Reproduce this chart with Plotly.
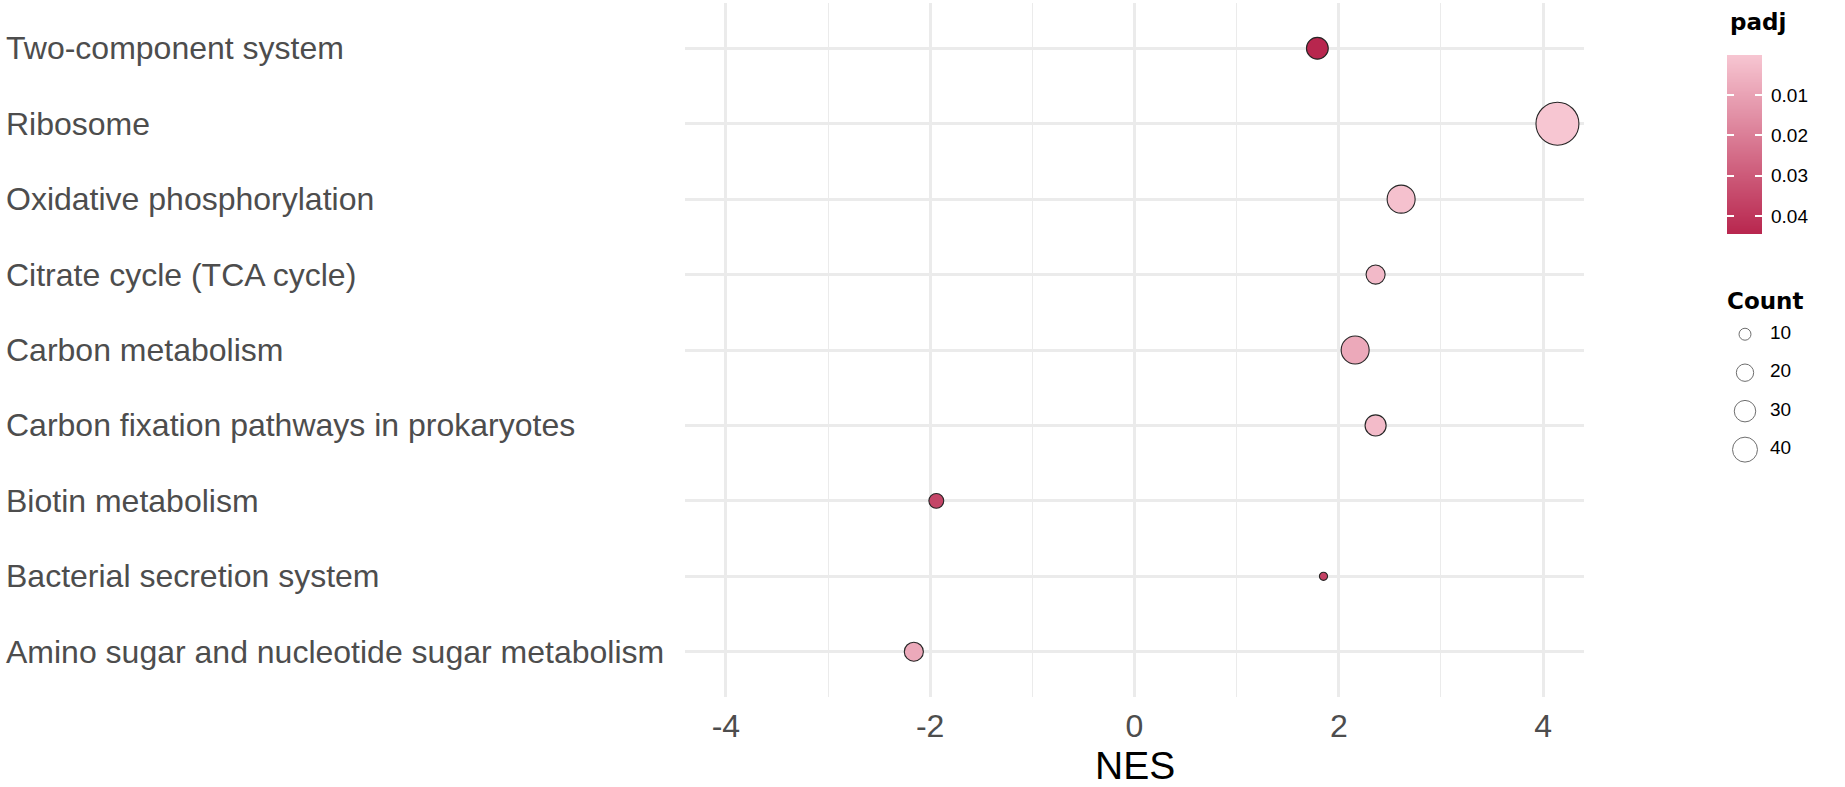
import numpy as np
import plotly.graph_objects as go

# ---------------- data ----------------
pathways = [
    "Two-component system",
    "Ribosome",
    "Oxidative phosphorylation",
    "Citrate cycle (TCA cycle)",
    "Carbon metabolism",
    "Carbon fixation pathways in prokaryotes",
    "Biotin metabolism",
    "Bacterial secretion system",
    "Amino sugar and nucleotide sugar metabolism",
]
nes = [1.79, 4.14, 2.61, 2.36, 2.16, 2.36, -1.94, 1.85, -2.16]
counts = [31, 115, 50, 24, 50, 29, 15, 5, 24]
padj = [0.0445, 0.00002, 0.0015, 0.0035, 0.008, 0.003, 0.036, 0.037, 0.008]

x_tick_vals = [-4, -2, 0, 2, 4]
x_tick_text = ["-4", "-2", "0", "2", "4"]
padj_ticks = [0.01, 0.02, 0.03, 0.04]
padj_tick_text = ["0.01", "0.02", "0.03", "0.04"]
count_breaks = [10, 20, 30, 40]
count_labels = ["10", "20", "30", "40"]

# ---------------- styling helpers ----------------
W, H = 1845, 787
FONT = "Liberation Sans, Arial, sans-serif"
TITLE_FONT = "DejaVu Sans, sans-serif"
GRID = "#EBEBEB"
colorscale = [[0.0, "#F7C6D2"], [1.0, "#B8264E"]]
cmin, cmax = min(padj), max(padj)


def fx(p):
    return p / W


def fy(p):
    return 1 - p / H


def dot_size(c):
    return 4.1 * np.sqrt(np.asarray(c, dtype=float)) - 1


fig = go.Figure()

# main dots
fig.add_trace(go.Scatter(
    x=nes, y=pathways, mode="markers",
    marker=dict(size=dot_size(counts), color=padj, colorscale=colorscale,
                cmin=cmin, cmax=cmax, showscale=False, opacity=1,
                line=dict(color="#262626", width=1.1)),
    showlegend=False, hoverinfo="x+y", xaxis="x", yaxis="y",
))

# padj colour bar (drawn as a gradient column)
grad = np.linspace(cmin, cmax, 200)
fig.add_trace(go.Heatmap(
    z=grad.reshape(-1, 1), x=[0], y=grad, colorscale=colorscale,
    zmin=cmin, zmax=cmax, showscale=False, hoverinfo="skip",
    xaxis="x3", yaxis="y3",
))

# Count size legend
fig.add_trace(go.Scatter(
    x=[0] * len(count_breaks), y=count_breaks, mode="markers",
    marker=dict(size=dot_size(count_breaks), color="white",
                line=dict(color="#333333", width=1)),
    showlegend=False, hoverinfo="skip", xaxis="x2", yaxis="y2",
))
fig.add_trace(go.Scatter(
    x=[1.25] * len(count_breaks), y=count_breaks, mode="text",
    text=count_labels, textposition="middle right",
    textfont=dict(family=FONT, size=19, color="black"),
    showlegend=False, hoverinfo="skip", xaxis="x2", yaxis="y2",
))

n = len(pathways)
annotations = []
for p in pathways:
    annotations.append(dict(
        text=p, xref="paper", yref="y", x=fx(4), y=p, xanchor="left",
        yanchor="middle", showarrow=False,
        font=dict(family=FONT, size=32, color="#4D4D4D"),
    ))
annotations.append(dict(
    text="NES", xref="paper", yref="paper", x=fx(1134.5), y=fy(765),
    xanchor="center", yanchor="middle", showarrow=False,
    font=dict(family=FONT, size=39, color="black"),
))
annotations.append(dict(
    text="<b>padj</b>", xref="paper", yref="paper", x=fx(1728), y=fy(22),
    xanchor="left", yanchor="middle", showarrow=False,
    font=dict(family=TITLE_FONT, size=23, color="black"),
))
annotations.append(dict(
    text="<b>Count</b>", xref="paper", yref="paper", x=fx(1725), y=fy(301),
    xanchor="left", yanchor="middle", showarrow=False,
    font=dict(family=TITLE_FONT, size=23, color="black"),
))

fig.update_layout(
    width=W, height=H,
    margin=dict(l=0, r=0, t=0, b=0),
    plot_bgcolor="white", paper_bgcolor="white",
    showlegend=False,
    annotations=annotations,
    xaxis=dict(
        domain=[fx(685), fx(1584)], anchor="y", range=[-4.4, 4.4],
        tickvals=x_tick_vals, ticktext=x_tick_text, ticks="",
        tickfont=dict(family=FONT, size=32, color="#4D4D4D"),
        ticklabelstandoff=7,
        showgrid=True, gridcolor=GRID, gridwidth=2.8,
        minor=dict(dtick=1, tick0=0, showgrid=True, gridcolor=GRID, gridwidth=1.4),
        zeroline=False, showline=False, automargin=False,
    ),
    yaxis=dict(
        domain=[fy(697), fy(3)], anchor="x", type="category",
        categoryorder="array", categoryarray=pathways,
        range=[n - 1 + 0.6, -0.6], showticklabels=False, ticks="",
        showgrid=True, gridcolor=GRID, gridwidth=2.8,
        zeroline=False, showline=False, automargin=False,
    ),
    xaxis2=dict(domain=[fx(1725), fx(1845)], anchor="y2", range=[-1, 5],
                visible=False, fixedrange=True),
    yaxis2=dict(domain=[fy(470), fy(315)], anchor="x2", range=[45.3, 5],
                visible=False, fixedrange=True),
    xaxis3=dict(domain=[fx(1727), fx(1762)], anchor="y3", range=[-0.5, 0.5],
                visible=False, fixedrange=True),
    yaxis3=dict(
        domain=[fy(234), fy(55)], anchor="x3", range=[cmax, cmin],
        side="right", tickvals=padj_ticks, ticktext=padj_tick_text,
        ticks="inside", ticklen=7, tickwidth=1.5, tickcolor="white",
        mirror="ticks", ticklabelstandoff=8,
        tickfont=dict(family=FONT, size=19, color="black"),
        showgrid=False, zeroline=False, showline=False, fixedrange=True,
    ),
)

fig.write_html(
    "out.html",
    config={"displayModeBar": False},
    post_script="document.body.style.margin='0';document.body.style.overflow='hidden';",
)
